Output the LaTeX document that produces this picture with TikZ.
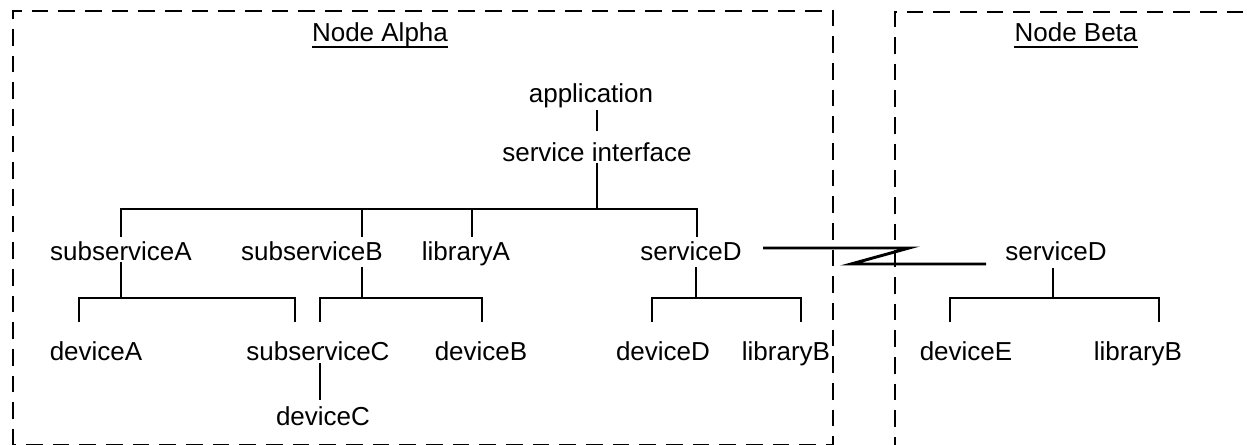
\documentclass[tikz,border=0pt]{standalone}
\usepackage{fontspec}
\setmainfont{Liberation Sans}
\begin{document}
\begin{tikzpicture}[x=0.75pt,y=-0.75pt,
  lbl/.style={anchor=base, inner sep=0pt, font=\fontsize{19.5}{23}\selectfont},
  wire/.style={line width=2.2pt},
  boxline/.style={line width=2.2pt, dash pattern=on 12.5pt off 7.5pt},
  uline/.style={line width=1.6pt}]
\useasboundingbox (0,0) rectangle (1248,445);
\clip (0,0) rectangle (1248,445);

% hosts
\draw[boxline] (13,445.8) -- (13,11) -- (833,11) -- (833,445.8) -- cycle;
\draw[boxline] (1270,12) -- (895,12) -- (895,448) -- (1270,448);

\node[lbl] (alpha) at (380,42) {Node Alpha};
\draw[uline] ([yshift=-3.5pt]alpha.base west) -- ([yshift=-3.5pt]alpha.base east);
\node[lbl] (beta) at (1076,42) {Node Beta};
\draw[uline] ([yshift=-3.5pt]beta.base west) -- ([yshift=-3.5pt]beta.base east);

% components on Node Alpha
\node[lbl] (app)  at (591,103) {application};
\node[lbl] (sif)  at (597,162) {service interface};
\node[lbl] (subA) at (121,261) {subserviceA};
\node[lbl] (subB) at (312,261) {subserviceB};
\node[lbl] (libA) at (466,261) {libraryA};
\node[lbl] (svcD) at (691,261) {serviceD};
\node[lbl] (devA) at (96,360) {deviceA};
\node[lbl] (subC) at (318,360) {subserviceC};
\node[lbl] (devB) at (481,360) {deviceB};
\node[lbl] (devD) at (663,360) {deviceD};
\node[lbl] (libB) at (786,360) {libraryB};
\node[lbl] (devC) at (323,425) {deviceC};

% components on Node Beta
\node[lbl] (svcDb) at (1056,261) {serviceD};
\node[lbl] (devE)  at (966,360) {deviceE};
\node[lbl] (libBb) at (1138,360) {libraryB};

% application -- service interface
\draw[wire] (597,110) coordinate (appb) -- (597,131) coordinate (sift);

% service interface bus
\draw[wire] (597,163) coordinate (sifb) -- (597,209) coordinate (busT);
\draw[wire] (121,237) -- (121,209) -- (697,209) -- (697,237);
\draw[wire] (362,209) -- (362,237);
\draw[wire] (472,209) -- (472,237);

% subserviceA bus
\draw[wire] (121,262) -- (121,298);
\draw[wire] (79,322) -- (79,298) -- (295,298) -- (295,322);

% subserviceB bus
\draw[wire] (362,267) -- (362,298);
\draw[wire] (320,322) -- (320,298) -- (482,298) -- (482,322);

% subserviceC -- deviceC
\draw[wire] (320,363) -- (320,400);

% serviceD bus (Alpha)
\draw[wire] (696,267) -- (696,298);
\draw[wire] (652,322) -- (652,298) -- (801,298) -- (801,322);

% serviceD bus (Beta)
\draw[wire] (1053,268) -- (1053,298);
\draw[wire] (950,322) -- (950,298) -- (1159,298) -- (1159,322);

% remote link between the two serviceD instances
\draw[wire] (763,248) coordinate (lnkA) -- (909,248) -- (851,264) -- (986,264) coordinate (lnkB);
\end{tikzpicture}
\end{document}
